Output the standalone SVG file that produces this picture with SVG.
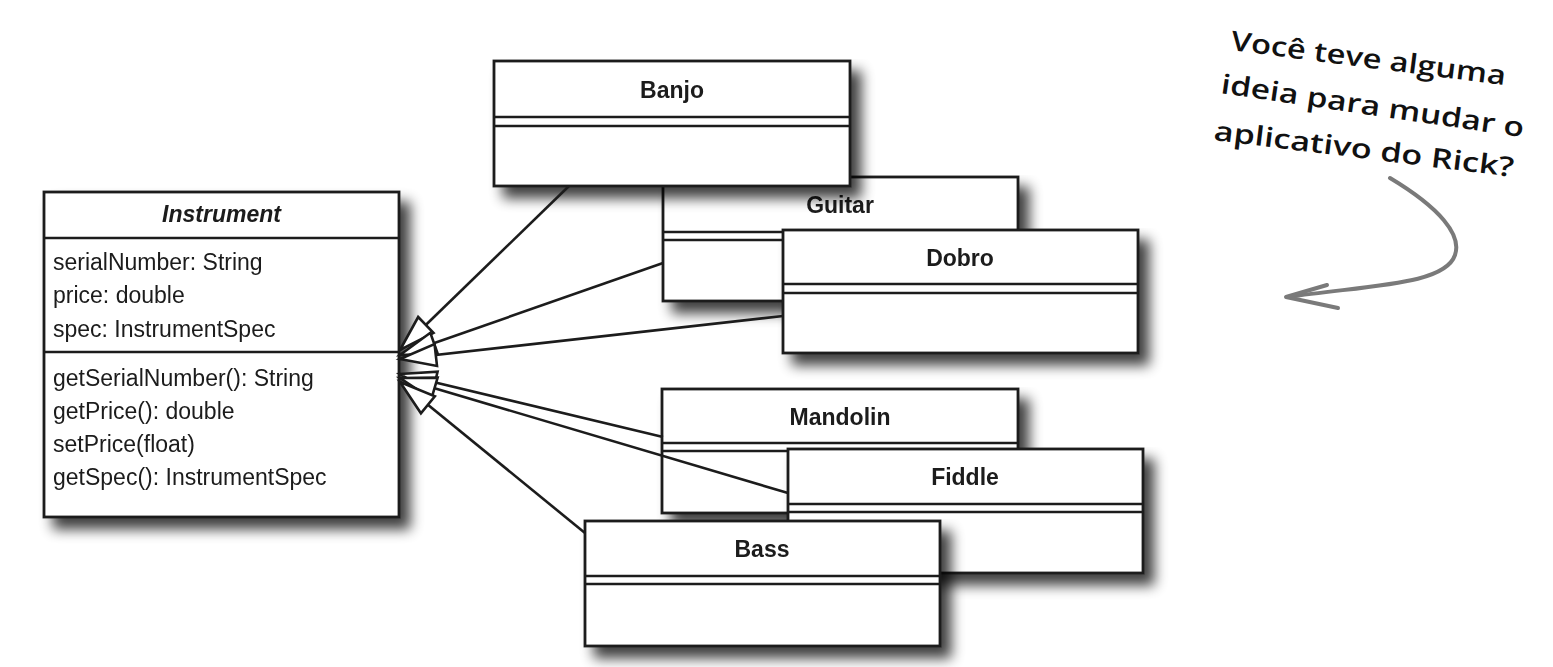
<svg xmlns="http://www.w3.org/2000/svg" width="1553" height="667" viewBox="0 0 1553 667">
<style>
.box{fill:#fff;stroke:#1c1c1c;stroke-width:2.8}
.sep{stroke:#1c1c1c;stroke-width:2.4}
.lbl{font-family:"Liberation Sans",Arial,sans-serif;font-size:23px;font-weight:bold;fill:#1a1a1a;text-anchor:middle}
.mem{font-family:"Liberation Sans",Arial,sans-serif;font-size:23px;fill:#1a1a1a}
.conn{fill:none;stroke:#1c1c1c;stroke-width:2.6;marker-start:url(#tri)}
.hand{font-family:"Open Sans","DejaVu Sans",sans-serif;font-size:27px;font-weight:600;fill:#111}
</style>
<defs>
<filter id="sh" x="-10%" y="-10%" width="135%" height="145%">
<feGaussianBlur in="SourceAlpha" stdDeviation="6.5"/>
<feOffset dx="10" dy="11"/>
<feComponentTransfer><feFuncA type="linear" slope="0.75"/></feComponentTransfer>
<feMerge><feMergeNode/><feMergeNode in="SourceGraphic"/></feMerge>
</filter>
<marker id="tri" markerUnits="userSpaceOnUse" viewBox="-3 -15 44 30" refX="0" refY="0" markerWidth="44" markerHeight="30" orient="auto" overflow="visible">
<path d="M0,0 L36,-11 L36,11 Z" fill="#fff" stroke="#1c1c1c" stroke-width="2.6" stroke-linejoin="miter"/>
</marker>
</defs>
<rect width="1553" height="667" fill="#fff"/>

<g id="instrument" filter="url(#sh)">
<rect class="box" x="44" y="192" width="355" height="325"/>
<line class="sep" x1="44" y1="238" x2="399" y2="238"/>
<line class="sep" x1="44" y1="352" x2="399" y2="352"/>
<text class="lbl" x="221.5" y="222" font-style="italic">Instrument</text>
<text class="mem" x="53" y="270">serialNumber: String</text>
<text class="mem" x="53" y="303">price: double</text>
<text class="mem" x="53" y="337">spec: InstrumentSpec</text>
<text class="mem" x="53" y="386">getSerialNumber(): String</text>
<text class="mem" x="53" y="419">getPrice(): double</text>
<text class="mem" x="53" y="452">setPrice(float)</text>
<text class="mem" x="53" y="485">getSpec(): InstrumentSpec</text>
</g>

<g id="guitar" filter="url(#sh)">
<rect class="box" x="663" y="177" width="355" height="124"/>
<line class="sep" x1="663" y1="232" x2="1018" y2="232"/>
<line class="sep" x1="663" y1="240" x2="1018" y2="240"/>
<text class="lbl" x="840" y="213">Guitar</text>
</g>

<g id="banjo" filter="url(#sh)">
<rect class="box" x="494" y="61" width="356" height="125"/>
<line class="sep" x1="494" y1="117" x2="850" y2="117"/>
<line class="sep" x1="494" y1="126" x2="850" y2="126"/>
<text class="lbl" x="672" y="98">Banjo</text>
</g>

<g id="dobro" filter="url(#sh)">
<rect class="box" x="783" y="230" width="355" height="123"/>
<line class="sep" x1="783" y1="284" x2="1138" y2="284"/>
<line class="sep" x1="783" y1="293" x2="1138" y2="293"/>
<text class="lbl" x="960" y="266">Dobro</text>
</g>

<g id="mandolin" filter="url(#sh)">
<rect class="box" x="662" y="389" width="356" height="124"/>
<line class="sep" x1="662" y1="443" x2="1018" y2="443"/>
<line class="sep" x1="662" y1="451" x2="1018" y2="451"/>
<text class="lbl" x="840" y="425">Mandolin</text>
</g>

<g id="fiddle" filter="url(#sh)">
<rect class="box" x="788" y="449" width="355" height="124"/>
<line class="sep" x1="788" y1="504" x2="1143" y2="504"/>
<line class="sep" x1="788" y1="512" x2="1143" y2="512"/>
<text class="lbl" x="965" y="485">Fiddle</text>
</g>

<g id="bass" filter="url(#sh)">
<rect class="box" x="585" y="521" width="355" height="125"/>
<line class="sep" x1="585" y1="576" x2="940" y2="576"/>
<line class="sep" x1="585" y1="584" x2="940" y2="584"/>
<text class="lbl" x="762" y="557">Bass</text>
</g>

<g id="connectors">
<path class="conn" d="M400,350 L569,186"/>
<path class="conn" d="M400,355 L663,263"/>
<path class="conn" d="M400,359 L783,316"/>
<path class="conn" d="M400,374 L663,437"/>
<path class="conn" d="M400,378 L788,493"/>
<path class="conn" d="M400,382 L585,533"/>
</g>

<g id="note">
<text class="hand" x="1230" y="50" transform="rotate(7.3 1230 50)" textLength="277" lengthAdjust="spacingAndGlyphs">Você teve alguma</text>
<text class="hand" x="1220" y="93" transform="rotate(8.3 1220 93)" textLength="306" lengthAdjust="spacingAndGlyphs">ideia para mudar o</text>
<text class="hand" x="1213" y="140" transform="rotate(7 1213 140)" textLength="302" lengthAdjust="spacingAndGlyphs">aplicativo do Rick?</text>
<path d="M1390,178 C1440,208 1462,235 1455,255 C1445,285 1370,285 1288,297" fill="none" stroke="#7a7a7a" stroke-width="4" stroke-linecap="round"/>
<path d="M1327,285 L1286,297 L1338,308" fill="none" stroke="#7a7a7a" stroke-width="4" stroke-linecap="round" stroke-linejoin="round"/>
</g>
</svg>
